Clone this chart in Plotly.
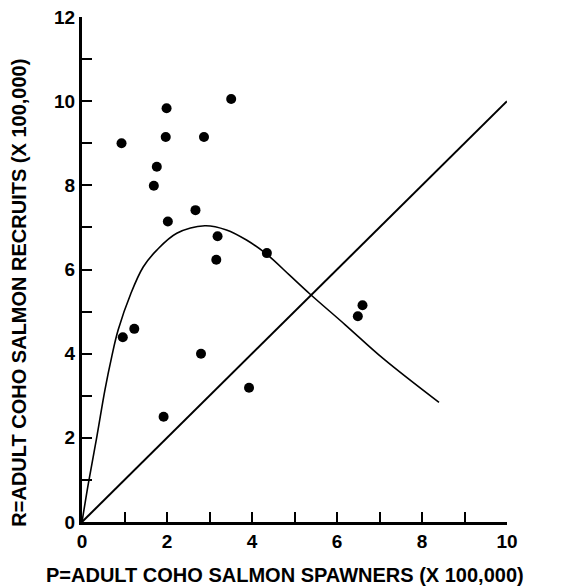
import plotly.graph_objects as go

# Observed spawner (P) and recruit (R) pairs, x100,000
spawners = [0.93, 1.99, 1.97, 2.87, 3.51, 1.76, 1.69, 2.67, 2.02, 3.19, 3.16, 4.35,
            0.96, 1.23, 2.80, 1.92, 3.93, 6.60, 6.49]
recruits = [9.00, 9.83, 9.15, 9.15, 10.05, 8.44, 7.99, 7.41, 7.14, 6.79, 6.23, 6.39,
            4.39, 4.59, 4.00, 2.50, 3.19, 5.15, 4.89]

# Stock-recruitment curve, points
curve_p = [0, 0.15, 0.35, 0.54, 0.70, 0.85, 1.15, 1.44, 1.76, 2.23, 2.89,
           3.40, 3.87, 4.35, 4.89, 5.35, 6.20, 7.09, 8.40]
curve_r = [0, 0.92, 2.03, 3.14, 3.93, 4.56, 5.43, 6.06, 6.46, 6.86, 7.04,
           6.94, 6.70, 6.36, 5.86, 5.43, 4.68, 3.88, 2.84]

# Replacement line R = P
repl_p = [0, 10]
repl_r = [0, 10]

x_tickvals = list(range(0, 11))
x_ticktext = [str(v) if v % 2 == 0 else "" for v in x_tickvals]
y_tickvals = list(range(0, 13))
y_ticktext = [str(v) if v % 2 == 0 else "" for v in y_tickvals]

x_title = "P=ADULT COHO SALMON SPAWNERS (X 100,000)"
y_title = "R=ADULT COHO SALMON RECRUITS (X 100,000)"

font_family = "Liberation Sans, Arial, sans-serif"
tickfont = dict(size=19, family=font_family, color="black", weight="bold")
titlefont = dict(size=20, family=font_family, color="black", weight="bold")

fig = go.Figure()
fig.add_trace(go.Scatter(x=repl_p, y=repl_r, mode="lines",
                         line=dict(color="black", width=2), showlegend=False,
                         cliponaxis=False))
fig.add_trace(go.Scatter(x=curve_p, y=curve_r, mode="lines",
                         line=dict(color="black", width=1.6, shape="spline", smoothing=1.0),
                         showlegend=False, cliponaxis=False))
fig.add_trace(go.Scatter(x=spawners, y=recruits, mode="markers",
                         marker=dict(color="black", size=10), showlegend=False,
                         cliponaxis=False))

fig.update_layout(
    width=566, height=586,
    margin=dict(l=74, r=67, t=9, b=72, autoexpand=False),
    paper_bgcolor="white", plot_bgcolor="white",
    font=dict(family=font_family, color="black", size=19),
    xaxis=dict(range=[0, 10], tickvals=x_tickvals, ticktext=x_ticktext,
               ticks="inside", ticklen=10, tickwidth=1.5, tickcolor="black",
               showline=True, linecolor="black", linewidth=2.5,
               showgrid=False, zeroline=False, fixedrange=True, automargin=False,
               ticklabeloverflow="allow", tickfont=tickfont),
    yaxis=dict(range=[0, 12], tickvals=y_tickvals, ticktext=y_ticktext,
               ticks="inside", ticklen=10, tickwidth=1.5, tickcolor="black",
               showline=True, linecolor="black", linewidth=3,
               showgrid=False, zeroline=False, fixedrange=True, automargin=False,
               ticklabeloverflow="allow", tickfont=tickfont),
    annotations=[
        dict(text=x_title, xref="paper", yref="paper", x=0.478, y=-0.105,
             xanchor="center", yanchor="middle", showarrow=False, font=titlefont),
        dict(text=y_title, xref="paper", yref="paper", x=-0.149, y=0.4535,
             xanchor="center", yanchor="middle", showarrow=False, textangle=-90,
             font=titlefont),
    ],
)

fig.write_html("out.html")
